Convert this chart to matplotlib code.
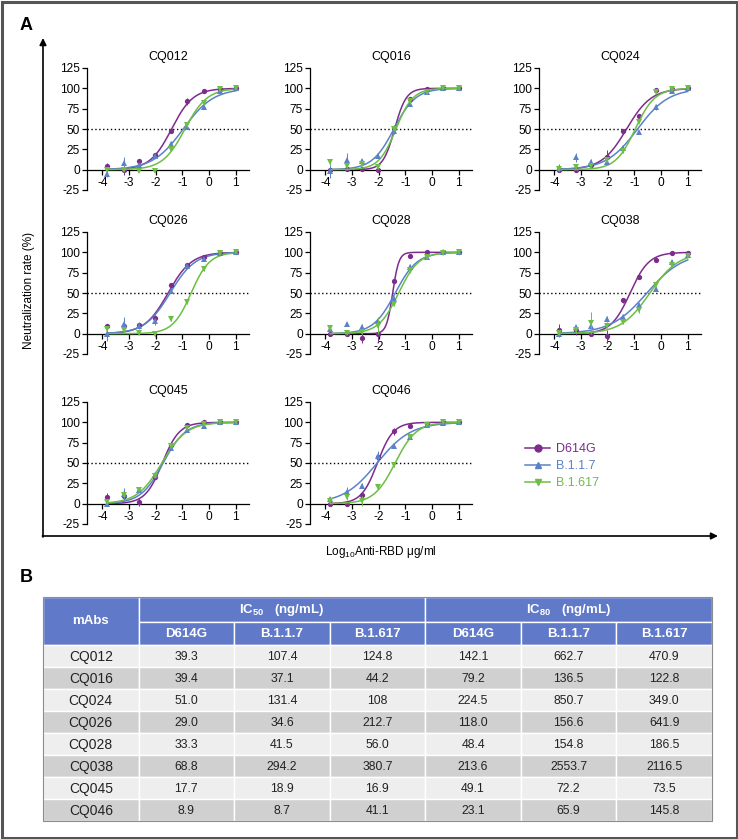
import numpy as np
import matplotlib.pyplot as plt
from matplotlib.patches import Rectangle
from matplotlib.lines import Line2D

plt.rcParams['font.family'] = ['Liberation Sans', 'DejaVu Sans']
plt.rcParams['mathtext.default'] = 'regular'
plt.rcParams['axes.unicode_minus'] = False

# log10 antibody concentration (ug/ml), 4-fold dilutions
log_conc = [-3.82, -3.21, -2.61, -2.01, -1.41, -0.81, -0.20, 0.40, 1.00]

variants = ['D614G', 'B.1.1.7', 'B.1.617']
colors = ['#7D2C8D', '#5B82C8', '#6CBE45']
markers = ['o', '^', 'v']

mabs = ['CQ012', 'CQ016', 'CQ024', 'CQ026', 'CQ028', 'CQ038', 'CQ045', 'CQ046']

# neutralization (%) per panel: rows = D614G, B.1.1.7, B.1.617
cq012 = [[4, 0, 11, 18, 47, 84, 97, 99, 100],
         [-5, 8, 6, 17, 31, 53, 77, 97, 100],
         [0, 0, -2, -2, 26, 55, 82, 99, 100]]
cq016 = [[0, 1, 1, 0, 51, 87, 99, 100, 100],
         [-2, 12, 11, 17, 47, 81, 96, 100, 100],
         [9, 5, 7, 3, 50, 84, 95, 100, 100]]
cq024 = [[-1, -1, 6, 16, 48, 66, 98, 99, 100],
         [2, 15, 9, 10, 27, 46, 77, 97, 100],
         [1, 3, 5, 12, 23, 59, 96, 99, 100]]
cq026 = [[9, 10, 11, 19, 60, 84, 94, 99, 100],
         [-1, 12, 10, 15, 53, 83, 92, 99, 100],
         [6, 4, 1, -1, 18, 39, 80, 99, 100]]
cq028 = [[0, -1, -5, 0, 65, 96, 100, 100, 100],
         [6, 12, 8, 16, 43, 82, 94, 100, 100],
         [7, 1, 2, 10, 37, 78, 94, 99, 100]]
cq038 = [[5, 4, 0, -3, 41, 70, 91, 99, 99],
         [-1, 8, 9, 18, 21, 35, 55, 88, 97],
         [1, 4, 13, 10, 14, 29, 60, 84, 96]]
cq045 = [[8, 9, 2, 33, 72, 97, 100, 100, 100],
         [0, 12, 17, 35, 69, 90, 96, 100, 100],
         [2, 11, 17, 34, 71, 93, 98, 100, 100]]
cq046 = [[-1, 0, 11, 57, 89, 96, 98, 100, 100],
         [6, 14, 22, 59, 71, 82, 97, 99, 100],
         [3, 8, 3, 21, 47, 82, 97, 100, 100]]

cq012_err = [[4, 6, 2, 2, 2, 4, 2, 1, 1], [4, 8, 2, 2, 4, 2, 3, 1, 1], [1, 1, 1, 1, 2, 2, 2, 1, 1]]
cq016_err = [[1, 2, 1, 1, 4, 2, 1, 1, 1], [8, 8, 2, 2, 3, 3, 2, 1, 1], [3, 3, 2, 2, 3, 3, 2, 1, 1]]
cq024_err = [[1, 1, 3, 8, 2, 3, 1, 1, 1], [5, 5, 4, 3, 3, 2, 4, 1, 1], [2, 2, 2, 3, 3, 2, 2, 1, 1]]
cq026_err = [[2, 2, 2, 4, 2, 2, 2, 1, 1], [8, 8, 4, 4, 3, 2, 2, 1, 1], [3, 3, 2, 3, 3, 2, 3, 1, 1]]
cq028_err = [[1, 2, 6, 10, 2, 2, 1, 1, 1], [2, 2, 4, 3, 3, 4, 2, 1, 1], [2, 2, 2, 10, 3, 3, 2, 1, 1]]
cq038_err = [[7, 6, 2, 8, 3, 2, 2, 1, 2], [3, 3, 3, 4, 3, 3, 2, 2, 2], [3, 3, 14, 3, 2, 3, 2, 2, 2]]
cq045_err = [[5, 3, 5, 3, 2, 1, 1, 1, 1], [2, 7, 3, 3, 2, 2, 2, 1, 1], [2, 3, 2, 3, 2, 2, 1, 1, 1]]
cq046_err = [[1, 1, 3, 3, 4, 2, 1, 1, 1], [2, 7, 3, 6, 2, 3, 1, 1, 1], [2, 3, 6, 3, 2, 3, 1, 1, 1]]

panel_data = [cq012, cq016, cq024, cq026, cq028, cq038, cq045, cq046]
panel_err = [cq012_err, cq016_err, cq024_err, cq026_err, cq028_err, cq038_err, cq045_err, cq046_err]

# table B (ng/mL)
ic50_d614g = ['39.3', '39.4', '51.0', '29.0', '33.3', '68.8', '17.7', '8.9']
ic50_b117 = ['107.4', '37.1', '131.4', '34.6', '41.5', '294.2', '18.9', '8.7']
ic50_b1617 = ['124.8', '44.2', '108', '212.7', '56.0', '380.7', '16.9', '41.1']
ic80_d614g = ['142.1', '79.2', '224.5', '118.0', '48.4', '213.6', '49.1', '23.1']
ic80_b117 = ['662.7', '136.5', '850.7', '156.6', '154.8', '2553.7', '72.2', '65.9']
ic80_b1617 = ['470.9', '122.8', '349.0', '641.9', '186.5', '2116.5', '73.5', '145.8']

ic50_cols = [ic50_d614g, ic50_b117, ic50_b1617]
ic80_cols = [ic80_d614g, ic80_b117, ic80_b1617]


def hill(x, ic50, ic80):
    # 4PL with bottom 0 / top 100, slope from IC50 and IC80
    h = np.log10(4) / np.log10(ic80 / ic50)
    return 100 / (1 + 10 ** ((np.log10(ic50 / 1000) - x) * h))


W, H = 738, 839
fig = plt.figure(figsize=(W / 100, H / 100), dpi=100)

# overlay axes in pixel coords for frame, arrows, labels and table
ax0 = fig.add_axes([0, 0, 1, 1])
ax0.set_xlim(0, W)
ax0.set_ylim(H, 0)
ax0.axis('off')

ax0.add_patch(Rectangle((1.5, 1.5), W - 3, H - 3, fill=False, ec='#555555', lw=2.2))
ax0.text(26, 26, 'A', fontsize=13, fontweight='bold', ha='center', va='center')
ax0.text(26, 578, 'B', fontsize=13, fontweight='bold', ha='center', va='center')

ax0.annotate('', xy=(43, 38), xytext=(43, 537),
             arrowprops=dict(arrowstyle='-|>', lw=1.2, color='k', mutation_scale=10, shrinkA=0, shrinkB=0))
ax0.annotate('', xy=(718, 536), xytext=(42.4, 536),
             arrowprops=dict(arrowstyle='-|>', lw=1.2, color='k', mutation_scale=10, shrinkA=0, shrinkB=0))
ax0.text(29, 290, 'Neutralization rate (%)', rotation=90, ha='center', va='center', fontsize=8.5)
ax0.text(381, 552, r'Log$_{10}$Anti-RBD μg/ml', ha='center', va='center', fontsize=8.5)


def px_axes(left, top, w, h):
    return fig.add_axes([left / W, 1 - (top + h) / H, w / W, h / H])


col_left = [87, 310, 539]
row_top = [68, 232, 402]
xs = np.linspace(min(log_conc), max(log_conc), 300)

for i, name in enumerate(mabs):
    r, c = divmod(i, 3)
    ax = px_axes(col_left[c], row_top[r], 162, 122)
    ax.patch.set_alpha(0)
    for k in [2, 1, 0]:
        ic50 = float(ic50_cols[k][i])
        ic80 = float(ic80_cols[k][i])
        ax.plot(xs, hill(xs, ic50, ic80), color=colors[k], lw=1.1, zorder=2 + k)
        ax.errorbar(log_conc, panel_data[i][k], yerr=panel_err[i][k], fmt=markers[k],
                    color=colors[k], ms=3.8, mew=0, capsize=1.6, elinewidth=0.7,
                    capthick=0.7, zorder=3 + k)
    ax.axhline(50, color='k', ls=(0, (1, 1.8)), lw=1, zorder=1)
    ax.set_xlim(-4.58, 1.5)
    ax.set_ylim(-25, 125)
    ax.set_yticks(range(-25, 126, 25))
    ax.set_xticks(range(-4, 2))
    ax.spines['top'].set_visible(False)
    ax.spines['right'].set_visible(False)
    ax.spines['bottom'].set_position(('data', 0))
    for s in ['left', 'bottom']:
        ax.spines[s].set_linewidth(0.9)
    ax.tick_params(length=3.5, width=0.9, labelsize=8.6, pad=1.5)
    ax.set_title(name, fontsize=9, pad=6)

handles = [Line2D([], [], color=colors[k], marker=markers[k], ms=5, lw=1.1) for k in range(3)]
fig.legend(handles, variants, loc='upper left', bbox_to_anchor=(525 / W, 1 - 443 / H),
           frameon=False, labelcolor='linecolor', fontsize=9, handlelength=2.0,
           handletextpad=0.5, labelspacing=0.4, borderpad=0, borderaxespad=0)

# ---- table B ----
hdr = '#6079C9'
tx = np.linspace(43, 712, 8)
ty = np.linspace(645, 821, len(mabs) + 1)
ec = 'white'

ax0.add_patch(Rectangle((tx[0], 597), tx[1] - tx[0], 48, fc=hdr, ec=ec, lw=1))
ax0.text((tx[0] + tx[1]) / 2, 621, 'mAbs', color='white', fontweight='bold', fontsize=9.5, ha='center', va='center')
for g, label in enumerate([r'IC$_{50}$   (ng/mL)', r'IC$_{80}$   (ng/mL)']):
    x0, x1 = tx[1 + 3 * g], tx[4 + 3 * g]
    ax0.add_patch(Rectangle((x0, 597), x1 - x0, 25, fc=hdr, ec=ec, lw=1))
    ax0.text((x0 + x1) / 2, 610, label, color='white', fontweight='bold', fontsize=9.5, ha='center', va='center')
    for j in range(3):
        a, b = tx[1 + 3 * g + j], tx[2 + 3 * g + j]
        ax0.add_patch(Rectangle((a, 622), b - a, 23, fc=hdr, ec=ec, lw=1))
        ax0.text((a + b) / 2, 634, variants[j], color='white', fontweight='bold', fontsize=9.5, ha='center', va='center')

table_cols = [mabs] + ic50_cols + ic80_cols
for i in range(len(mabs)):
    fc = '#EEEEEE' if i % 2 == 0 else '#D0D0D0'
    y0, y1 = ty[i], ty[i + 1]
    for j in range(7):
        ax0.add_patch(Rectangle((tx[j], y0), tx[j + 1] - tx[j], y1 - y0, fc=fc, ec=ec, lw=1))
        ax0.text((tx[j] + tx[j + 1]) / 2, (y0 + y1) / 2 + 0.5, table_cols[j][i],
                 fontsize=10 if j == 0 else 8.8, color='#222222', ha='center', va='center')
ax0.add_patch(Rectangle((tx[0], 597), tx[-1] - tx[0], ty[-1] - 597, fill=False, ec='#8C8C8C', lw=0.8))

fig.savefig('out.png', dpi=100)
